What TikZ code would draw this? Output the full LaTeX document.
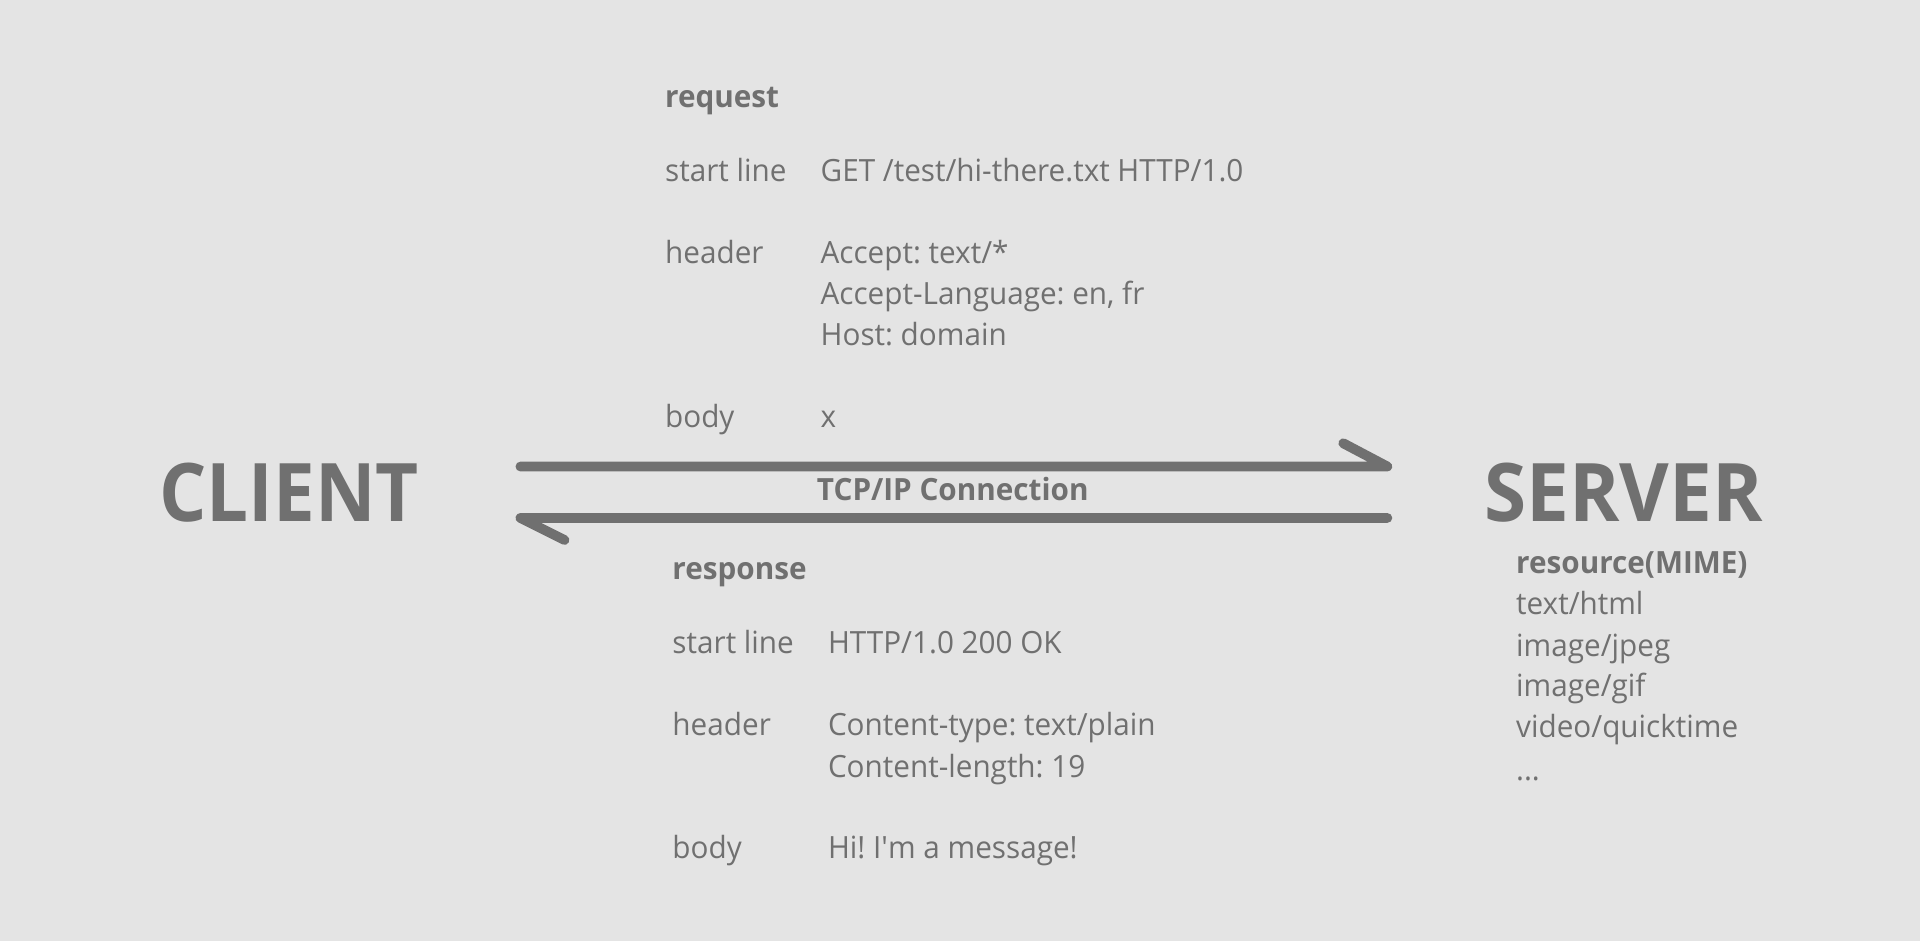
\documentclass[tikz,border=0pt]{standalone}
\usepackage{fontspec}
\setmainfont[FakeStretch=0.97]{Open Sans}
\frenchspacing
\definecolor{bg}{HTML}{E4E4E4}
\definecolor{ink}{HTML}{707070}
\begin{document}
\begin{tikzpicture}[x=1pt,y=-1pt,
  txt/.style={anchor=base west, inner sep=0pt, text=ink, font=\fontsize{25}{30}\selectfont},
  bld/.style={anchor=base west, inner sep=0pt, text=ink, font=\fontsize{25}{30}\selectfont\bfseries},
  big/.style={anchor=base west, inner sep=0pt, text=ink, font=\fontsize{66}{70}\selectfont\bfseries},
  conn/.style={draw=ink, line width=8pt, line cap=round, line join=round}]
\fill[bg] (0,0) rectangle (1568,768.5);
\useasboundingbox (0,0) rectangle (1568,768.5);
% big labels
\node[big] (client) at (130,426) {\scalebox{0.95}[1]{CLIENT}};
\node[big] (server) at (1212,426) {\scalebox{0.975}[1]{SERVER}};
% request
\node[bld] (req) at (543,88) {request};
\node[txt] (reqsl) at (543,148) {start line};
\node[txt] (reqslv) at (670,148) {GET /test/hi-there.txt HTTP/1.0};
\node[txt] (reqh) at (543,215) {header};
\node[txt] (reqh1) at (670,215) {Accept: text/*};
\node[txt] (reqh2) at (670,249) {Accept-Language: en, fr};
\node[txt] (reqh3) at (670,282) {Host: domain};
\node[txt] (reqb) at (543,349) {body};
\node[txt] (reqbv) at (670,349) {x};
% connection
\coordinate (aL) at (425,381);
\coordinate (aR) at (1133,381);
\coordinate (aRb) at (1097,362);
\coordinate (bR) at (1133,423);
\coordinate (bL) at (425,423);
\coordinate (bLb) at (461,441);
\draw[conn] (aL) -- (aR) -- (aRb);
\draw[conn] (bR) -- (bL) -- (bLb);
\node[bld] (tcp) at (667,409) {TCP/IP Connection};
% response
\node[bld] (resp) at (549,473) {response};
\node[txt] (respsl) at (549,534) {start line};
\node[txt] (respslv) at (676,534) {HTTP/1.0 200 OK};
\node[txt] (resph) at (549,601) {header};
\node[txt] (resph1) at (676,601) {Content-type: text/plain};
\node[txt] (resph2) at (676,635) {Content-length: 19};
\node[txt] (respb) at (549,701) {body};
\node[txt] (respbv) at (676,701) {Hi! I\textquotesingle m a message!};
% resources
\node[bld] (res) at (1238,468) {resource(MIME)};
\node[txt] (res1) at (1238,502) {text/html};
\node[txt] (res2) at (1238,536) {image/jpeg};
\node[txt] (res3) at (1238,569) {image/gif};
\node[txt] (res4) at (1238,602) {video/quicktime};
\node[txt] (res5) at (1238,637) {...};
\end{tikzpicture}
\end{document}
